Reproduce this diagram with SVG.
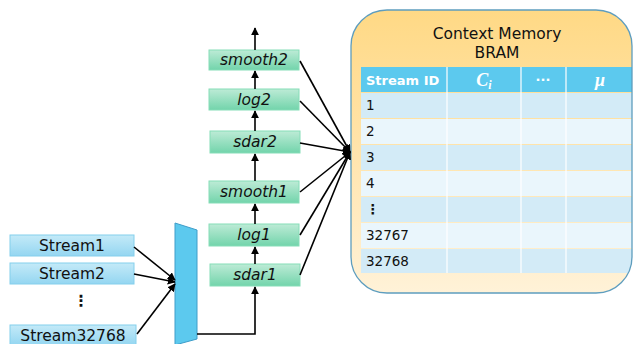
<svg xmlns="http://www.w3.org/2000/svg" width="633" height="344" viewBox="0 0 633 344">
  <defs>
    <linearGradient id="gStream" x1="0" y1="0" x2="0" y2="1">
      <stop offset="0" stop-color="#C4EAF8"/>
      <stop offset="1" stop-color="#94D6F1"/>
    </linearGradient>
    <linearGradient id="gStage" x1="0" y1="0" x2="0" y2="1">
      <stop offset="0" stop-color="#BDEBD6"/>
      <stop offset="1" stop-color="#72D4AB"/>
    </linearGradient>
    <linearGradient id="gMem" x1="0" y1="0" x2="0" y2="1">
      <stop offset="0" stop-color="#FFD985"/>
      <stop offset="0.45" stop-color="#FFE3A8"/>
      <stop offset="1" stop-color="#FFF2D8"/>
    </linearGradient>
    <marker id="arr" viewBox="0 0 10 10" refX="9" refY="5" markerWidth="5" markerHeight="5" orient="auto">
      <path d="M0,0 L10,5 L0,10 z" fill="#000"/>
    </marker>
    <clipPath id="clipMem">
      <rect x="351" y="10" width="281" height="283" rx="36"/>
    </clipPath>
  </defs>
  <style>
    .stream { fill: url(#gStream); stroke: #84CFEC; stroke-width: 1; }
    .stage { fill: url(#gStage); stroke: #86DDB8; stroke-width: 1; }
    .lbl { font-family: "DejaVu Sans", Verdana, sans-serif; font-size: 15.5px; fill: #111; text-anchor: middle; }
    .ital { font-family: "DejaVu Sans", Verdana, sans-serif; font-size: 15.5px; font-style: italic; fill: #111; text-anchor: middle; }
    .wire { stroke: #000; stroke-width: 1.6; fill: none; }
    .cell { font-family: "DejaVu Sans", Verdana, sans-serif; font-size: 13.5px; fill: #111; }
    .hdr { font-family: "DejaVu Sans", Verdana, sans-serif; font-size: 13px; font-weight: bold; fill: #fff; }
    .sym { font-family: "Liberation Serif", "Times New Roman", serif; font-size: 18px; font-style: italic; font-weight: bold; fill: #fff; text-anchor: middle; }
  </style>

  <!-- input streams -->
  <g id="stream1">
    <rect class="stream" x="10" y="235" width="124" height="21"/>
    <text class="lbl" x="72" y="251">Stream1</text>
  </g>
  <g id="stream2">
    <rect class="stream" x="10" y="263" width="124" height="21"/>
    <text class="lbl" x="72" y="279">Stream2</text>
  </g>
  <g id="streamDots">
    <text class="lbl" x="81" y="306" font-weight="bold" fill="#000">⋮</text>
  </g>
  <g id="stream32768">
    <rect class="stream" x="10" y="325" width="126" height="20"/>
    <text class="lbl" x="73" y="341">Stream32768</text>
  </g>

  <!-- multiplexer -->
  <g id="mux">
    <path d="M175,223 L197,230 L197,339 L175,345 Z" fill="#5CC9EE" stroke="#3E9DC9" stroke-width="1"/>
  </g>

  <!-- processing stages -->
  <g id="sdar1">
    <rect class="stage" x="210" y="264" width="90" height="22"/>
    <text class="ital" x="255" y="280">sdar1</text>
  </g>
  <g id="log1">
    <rect class="stage" x="209" y="224" width="90" height="22"/>
    <text class="ital" x="254" y="240">log1</text>
  </g>
  <g id="smooth1">
    <rect class="stage" x="209" y="181" width="90" height="22"/>
    <text class="ital" x="254" y="197">smooth1</text>
  </g>
  <g id="sdar2">
    <rect class="stage" x="210" y="131" width="90" height="22"/>
    <text class="ital" x="255" y="147">sdar2</text>
  </g>
  <g id="log2">
    <rect class="stage" x="209" y="89" width="90" height="21"/>
    <text class="ital" x="254" y="105">log2</text>
  </g>
  <g id="smooth2">
    <rect class="stage" x="209" y="50" width="90" height="20"/>
    <text class="ital" x="254" y="65">smooth2</text>
  </g>

  <!-- context memory -->
  <g id="contextMemory">
    <rect x="351" y="10" width="281" height="283" rx="36" fill="url(#gMem)"/>
    <g clip-path="url(#clipMem)">
      <rect x="361" y="67" width="272" height="25" fill="#5CC9EE"/>
      <rect x="361" y="93" width="272" height="25" fill="#D3EBF7"/>
      <rect x="361" y="119" width="272" height="25" fill="#EAF6FC"/>
      <rect x="361" y="145" width="272" height="25" fill="#D3EBF7"/>
      <rect x="361" y="171" width="272" height="25" fill="#EAF6FC"/>
      <rect x="361" y="197" width="272" height="25" fill="#D3EBF7"/>
      <rect x="361" y="223" width="272" height="25" fill="#EAF6FC"/>
      <rect x="361" y="249" width="272" height="24" fill="#D3EBF7"/>
      <g stroke="#fff" stroke-width="1.2">
        <line x1="447" y1="67" x2="447" y2="273"/>
        <line x1="521" y1="67" x2="521" y2="273"/>
        <line x1="566" y1="67" x2="566" y2="273"/>
      </g>
    </g>
    <rect x="351" y="10" width="281" height="283" rx="36" fill="none" stroke="#5E9DBE" stroke-width="1.3"/>
    <text class="lbl" x="497" y="39">Context Memory</text>
    <text class="lbl" x="497" y="58">BRAM</text>
    <text class="hdr" x="366" y="85">Stream ID</text>
    <text class="sym" x="484" y="86">C<tspan font-size="12" dy="3">i</tspan></text>
    <text class="hdr" x="543" y="84" text-anchor="middle">···</text>
    <text class="sym" x="600" y="86">μ</text>
    <text class="cell" x="366" y="110">1</text>
    <text class="cell" x="366" y="136">2</text>
    <text class="cell" x="366" y="162">3</text>
    <text class="cell" x="366" y="188">4</text>
    <text class="cell" x="366" y="214" font-weight="bold">⋮</text>
    <text class="cell" x="366" y="240">32767</text>
    <text class="cell" x="366" y="266">32768</text>
  </g>

  <!-- connectors -->
  <g id="connectors">
    <line class="wire" x1="134" y1="247" x2="175" y2="280" marker-end="url(#arr)"/>
    <line class="wire" x1="134" y1="274" x2="175" y2="282" marker-end="url(#arr)"/>
    <line class="wire" x1="137" y1="334" x2="175" y2="284" marker-end="url(#arr)"/>
    <polyline class="wire" points="197,334 255,334 255,287" marker-end="url(#arr)"/>
    <line class="wire" x1="255" y1="264" x2="255" y2="247" marker-end="url(#arr)"/>
    <line class="wire" x1="255" y1="224" x2="255" y2="204" marker-end="url(#arr)"/>
    <line class="wire" x1="255" y1="181" x2="255" y2="154" marker-end="url(#arr)"/>
    <line class="wire" x1="255" y1="131" x2="255" y2="111" marker-end="url(#arr)"/>
    <line class="wire" x1="255" y1="89" x2="255" y2="71" marker-end="url(#arr)"/>
    <line class="wire" x1="255" y1="50" x2="255" y2="28" marker-end="url(#arr)"/>
    <line class="wire" x1="300" y1="61" x2="350" y2="152" marker-end="url(#arr)"/>
    <line class="wire" x1="300" y1="101" x2="350" y2="152" marker-end="url(#arr)"/>
    <line class="wire" x1="300" y1="143" x2="350" y2="152" marker-end="url(#arr)"/>
    <line class="wire" x1="300" y1="192" x2="350" y2="152" marker-end="url(#arr)"/>
    <line class="wire" x1="300" y1="235" x2="350" y2="152" marker-end="url(#arr)"/>
    <line class="wire" x1="300" y1="275" x2="350" y2="152" marker-end="url(#arr)"/>
  </g>
</svg>
